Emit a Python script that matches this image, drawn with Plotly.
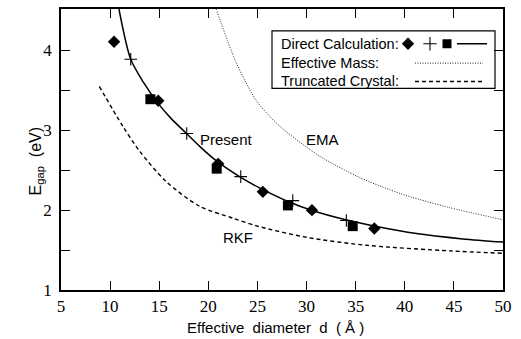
import plotly.graph_objects as go

# ---------------- data ----------------
diamond_d = [10.4, 14.9, 21.0, 25.55, 30.55, 36.9]
diamond_E = [4.11, 3.37, 2.58, 2.23, 2.00, 1.77]

plus_d = [12.1, 17.8, 23.3, 28.6, 34.05]
plus_E = [3.89, 2.96, 2.42, 2.12, 1.87]

square_d = [14.1, 20.85, 28.1, 34.7]
square_E = [3.39, 2.52, 2.06, 1.80]

present_d = [10.9, 12.1, 13.4, 14.8, 16.2, 17.7, 19.2, 20.8, 23.3, 25.2, 28.3, 30.5, 34.0, 37.4, 41.0, 45.9, 50.0]
present_E = [4.52, 3.89, 3.60, 3.35, 3.15, 2.97, 2.79, 2.62, 2.41, 2.28, 2.10, 2.00, 1.88, 1.79, 1.71, 1.64, 1.60]

ema_d = [20.8, 22.8, 24.9, 27.2, 31.3, 35.4, 39.5, 44.3, 50.0]
ema_E = [4.52, 3.86, 3.37, 3.06, 2.68, 2.41, 2.21, 2.04, 1.88]

rkf_d = [8.9, 11.3, 13.0, 15.7, 19.1, 22.5, 25.0, 30.0, 36.1, 44.6, 50.0]
rkf_E = [3.55, 3.05, 2.74, 2.36, 2.05, 1.90, 1.80, 1.66, 1.56, 1.49, 1.46]

x_ticks = [5, 10, 15, 20, 25, 30, 35, 40, 45, 50]
y_ticks = [1, 2, 3, 4]
y_minor = [1.5, 2.5, 3.5]

legend_rows = ["Direct Calculation:", "Effective Mass:", "Truncated Crystal:"]

# ---------------- layout geometry ----------------
W, H = 521, 339
L, R, T, B = 61, 18, 7, 49
PW, PH = W - L - R, H - T - B

SANS = "Liberation Sans"
SERIF = "Liberation Serif"


def px(x):
    return (x - L) / PW


def py(y):
    return (T + PH - y) / PH


fig = go.Figure()

# curves
fig.add_trace(go.Scatter(x=present_d, y=present_E, mode="lines",
                         line=dict(color="black", width=1.5, shape="spline", smoothing=0.8),
                         showlegend=False))
fig.add_trace(go.Scatter(x=ema_d, y=ema_E, mode="lines",
                         line=dict(color="#222222", width=1, dash="1px,1.5px", shape="spline", smoothing=0.8),
                         showlegend=False))
fig.add_trace(go.Scatter(x=rkf_d, y=rkf_E, mode="lines",
                         line=dict(color="black", width=1.4, dash="4px,3px", shape="spline", smoothing=0.8),
                         showlegend=False))

# markers
fig.add_trace(go.Scatter(x=square_d, y=square_E, mode="markers",
                         marker=dict(symbol="square", size=10, color="black", line=dict(width=0)),
                         showlegend=False))
fig.add_trace(go.Scatter(x=diamond_d, y=diamond_E, mode="markers",
                         marker=dict(symbol="diamond", size=9.5, color="black", line=dict(width=0)),
                         showlegend=False))
fig.add_trace(go.Scatter(x=plus_d, y=plus_E, mode="markers",
                         marker=dict(symbol="cross-thin", size=9, color="black",
                                     line=dict(width=1.1, color="black")),
                         showlegend=False))

# ---------------- hand-drawn legend on a pixel overlay axis ----------------
lx = dict(xaxis="x2", yaxis="y2", showlegend=False, hoverinfo="skip")
fig.add_trace(go.Scatter(x=[408], y=[42], mode="markers",
                         marker=dict(symbol="diamond", size=9.5, color="black", line=dict(width=0)), **lx))
fig.add_trace(go.Scatter(x=[430], y=[42], mode="markers",
                         marker=dict(symbol="cross-thin", size=9.5, color="black",
                                     line=dict(width=1.1, color="black")), **lx))
fig.add_trace(go.Scatter(x=[447], y=[42], mode="markers",
                         marker=dict(symbol="square", size=9, color="black", line=dict(width=0)), **lx))
fig.add_trace(go.Scatter(x=[457, 487], y=[42, 42], mode="lines",
                         line=dict(color="black", width=1.5), **lx))
fig.add_trace(go.Scatter(x=[415, 483], y=[61.5, 61.5], mode="lines",
                         line=dict(color="#222222", width=1, dash="1px,1.5px"), **lx))
fig.add_trace(go.Scatter(x=[415, 482], y=[80, 80], mode="lines",
                         line=dict(color="black", width=1.4, dash="4px,3px"), **lx))

shapes = [dict(type="rect", xref="x2", yref="y2", x0=272, x1=495, y0=29, y1=87,
               line=dict(color="black", width=1.2), fillcolor="white", layer="below")]

annotations = []
for text, yy in zip(legend_rows, [42, 61.5, 80]):
    annotations.append(dict(text=text, xref="x2", yref="y2", x=279, y=yy, xanchor="left",
                            yanchor="middle", showarrow=False,
                            font=dict(family=SANS, size=14.5, color="black")))

# curve labels
annotations += [
    dict(text="Present", x=21.8, y=2.89, xref="x", yref="y", showarrow=False,
         font=dict(family=SANS, size=15, color="black")),
    dict(text="EMA", x=31.6, y=2.89, xref="x", yref="y", showarrow=False,
         font=dict(family=SANS, size=15, color="black")),
    dict(text="RKF", x=23.0, y=1.66, xref="x", yref="y", showarrow=False,
         font=dict(family=SANS, size=15, color="black")),
]

# axis titles
annotations.append(dict(text="Effective\u00a0\u00a0diameter\u00a0\u00a0d\u00a0\u00a0(\u00a0Å\u00a0)",
                        xref="paper", yref="paper", x=px(275), y=py(338), yanchor="bottom",
                        showarrow=False, font=dict(family=SANS, size=15, color="black")))
annotations.append(dict(text="E<sub>gap</sub>\u00a0\u00a0(eV)", xref="paper", yref="paper",
                        x=px(25), y=py(161), textangle=-90, showarrow=False,
                        font=dict(family=SANS, size=16, color="black")))

axis_common = dict(showgrid=False, zeroline=False, showline=True, linecolor="black",
                   linewidth=1.5, ticks="inside", ticklen=9, tickwidth=1.2, tickcolor="black",
                   mirror="allticks", tickfont=dict(family=SERIF, size=17, color="black"))

fig.update_layout(
    width=W, height=H,
    margin=dict(l=L, r=R, t=T, b=B),
    paper_bgcolor="white", plot_bgcolor="white",
    font=dict(family=SANS),
    xaxis=dict(range=[5, 50], tickvals=x_ticks, ticklabelstandoff=0, **axis_common),
    yaxis=dict(range=[1, 4.52], tickvals=y_ticks, ticklabelstandoff=4,
               minor=dict(tickvals=y_minor, ticks="inside", ticklen=9, tickwidth=1.2,
                          tickcolor="black"),
               **axis_common),
    xaxis2=dict(overlaying="x", anchor="y2", range=[L, L + PW], visible=False),
    yaxis2=dict(overlaying="y", anchor="x2", range=[T + PH, T], visible=False),
    shapes=shapes,
    annotations=annotations,
    showlegend=False,
)

fig.write_html("out.html")
